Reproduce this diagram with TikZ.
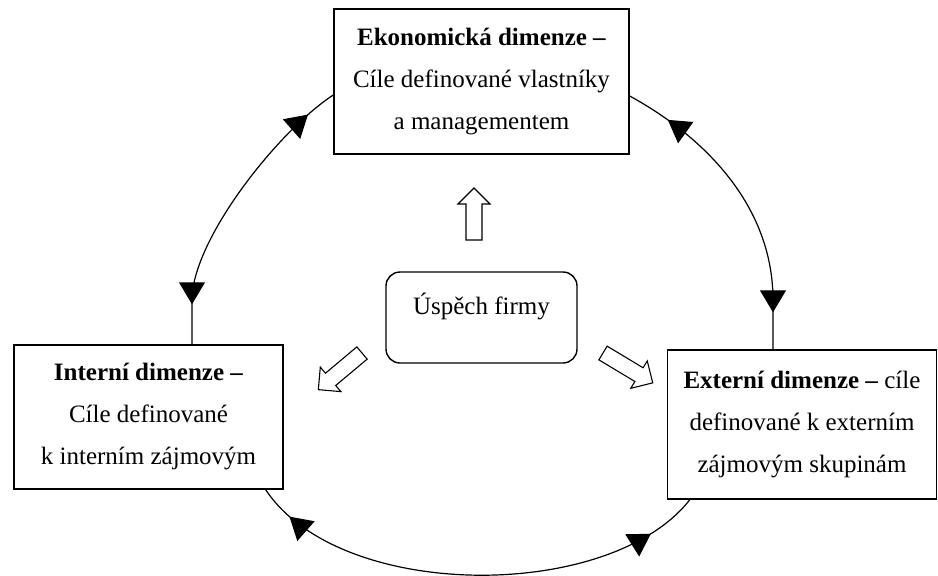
\documentclass[tikz,border=0pt]{standalone}
\usepackage{fontspec}
\setmainfont{Liberation Serif}
\usetikzlibrary{arrows.meta,decorations.markings}
\begin{document}
\begin{tikzpicture}[x=1pt,y=-1pt,
  dimbox/.style={draw, line width=1.4pt, inner sep=0pt, align=center,
    font=\fontsize{25}{42}\selectfont},
  corebox/.style={draw, line width=1.4pt, rounded corners=14pt, inner sep=0pt,
    minimum width=191pt, minimum height=91pt, text height=17pt, text depth=23pt,
    font=\fontsize{25}{30}\selectfont},
  link/.style={line width=1.2pt},
  twoheads/.style 2 args={decoration={markings,
      mark=at position #1 with {\arrowreversed{Triangle[length=22pt,width=26pt]}},
      mark=at position #2 with {\arrow{Triangle[length=22pt,width=26pt]}}},
    postaction=decorate},
  hollow/.style={draw, line width=1.1pt, fill=white, line join=miter},
  pics/hollowarrow/.style={code={
    \draw[hollow] (0,-8) -- (#1-16,-8) -- (#1-16,-16) -- (#1,0)
      -- (#1-16,16) -- (#1-16,8) -- (0,8) -- cycle;}}
]
\useasboundingbox (0,0) rectangle (938,576);

% the three dimensions
\node[dimbox, minimum width=295pt, minimum height=145pt] (eco) at (481.5,81.5)
  {\textbf{Ekonomická dimenze –}\\Cíle definované vlastníky\\a managementem};
\node[dimbox, minimum width=269pt, minimum height=144pt] (int) at (148.5,417)
  {\textbf{Interní dimenze –}\\Cíle definované\\k interním zájmovým};
\node[dimbox, minimum width=269pt, minimum height=149pt] (ext) at (802,424.5)
  {\textbf{Externí dimenze –} cíle\\definované k externím\\zájmovým skupinám};

% centre
\node[corebox] (core) at (481.5,317.5) {Úspěch firmy};

% block arrows from the centre
\pic[rotate=90] at (474,240) {hollowarrow=52};
\pic[rotate=220] at (362,353) {hollowarrow=57};
\pic[rotate=-31] at (603,353) {hollowarrow=58};

% curved double-headed links around the cycle
\draw[link, twoheads={32pt}{-40pt}]
  ([yshift=-13.5pt]eco.west) .. controls (278,131) and (192,240) .. (192,300)
  -- ([xshift=43.5pt]int.north);
\draw[link, twoheads={45pt}{-37pt}]
  ([yshift=-14.5pt]eco.east) .. controls (710,140) and (773,210) .. (773,300)
  -- ([xshift=-29pt]ext.north);
\draw[link, twoheads={36pt}{-52pt}]
  ([xshift=-18pt]int.south east) .. controls (340,602) and (610,602)
  .. ([xshift=23pt]ext.south west);
\end{tikzpicture}
\end{document}
